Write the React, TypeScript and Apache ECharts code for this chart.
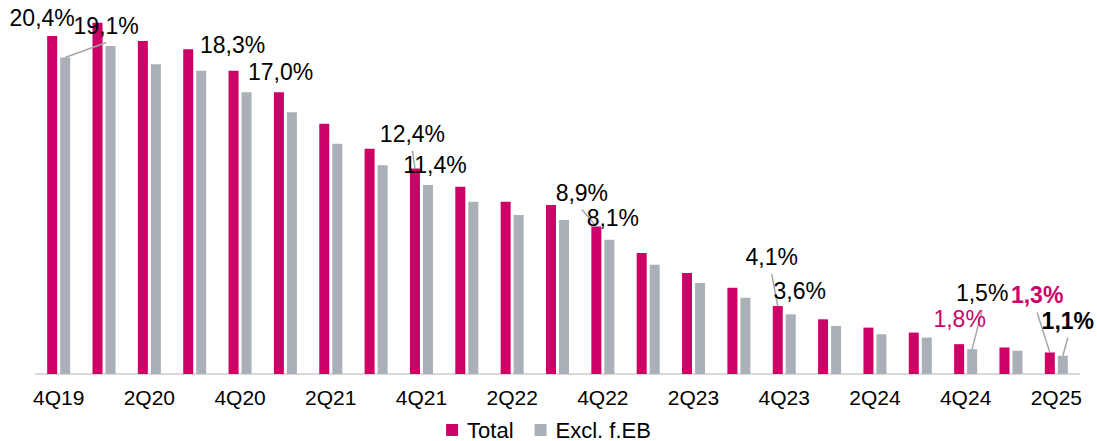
import React, { useEffect, useRef } from "react";
import * as echarts from "echarts";

const categories = [
  "4Q19", "1Q20", "2Q20", "3Q20", "4Q20", "1Q21", "2Q21", "3Q21", "4Q21",
  "1Q22", "2Q22", "3Q22", "4Q22", "1Q23", "2Q23", "3Q23", "4Q23",
  "1Q24", "2Q24", "3Q24", "4Q24", "1Q25", "2Q25",
];
const totalValues = [
  20.4, 21.2, 20.1, 19.6, 18.3, 17.0, 15.1, 13.6, 12.4, 11.3, 10.4, 10.2,
  8.9, 7.3, 6.1, 5.2, 4.1, 3.3, 2.8, 2.5, 1.8, 1.6, 1.3,
];
const exclValues = [
  19.1, 19.8, 18.7, 18.3, 17.0, 15.8, 13.9, 12.6, 11.4, 10.4, 9.6, 9.3,
  8.1, 6.6, 5.5, 4.6, 3.6, 2.9, 2.4, 2.2, 1.5, 1.4, 1.1,
];
const seriesNames = ["Total", "Excl. f.EB"];
const labeledIndices = [0, 4, 8, 12, 16, 20, 22];

const MAGENTA = "#CC0066";
const GREY = "#A9B0B8";
const FONT = "'Liberation Sans', Arial, Helvetica, sans-serif";

type Place = { dx: number; dy: number; line?: boolean; color?: string; bold?: boolean };
// offset of the label centre from the bar's top centre (layout only)
const totalPlacement: Record<number, Place> = {
  0: { dx: -10, dy: -18 },
  4: { dx: -1, dy: -26 },
  8: { dx: -2.5, dy: -35, line: true },
  12: { dx: -14.5, dy: -34, line: true },
  16: { dx: -6, dy: -49, line: true },
  20: { dx: 0.5, dy: -25, color: MAGENTA },
  22: { dx: -12.7, dy: -57, line: true, color: MAGENTA, bold: true },
};
const exclPlacement: Record<number, Place> = {
  0: { dx: 41, dy: -32, line: true },
  4: { dx: 34, dy: -20 },
  8: { dx: 7, dy: -20 },
  12: { dx: 3.5, dy: -22 },
  16: { dx: 9, dy: -23.5 },
  20: { dx: 10, dy: -56, line: true },
  22: { dx: 5, dy: -35, line: true, bold: true },
};

const fmt = (v: number) => v.toFixed(1).replace(".", ",") + "%";

export default function App() {
  const ref = useRef<HTMLDivElement>(null);
  useEffect(() => {
    document.body.style.margin = "0";
    if (!ref.current) return;
    const chart = echarts.init(ref.current, undefined, { renderer: "svg" });
    chart.setOption({
      animation: false,
      backgroundColor: "#ffffff",
      textStyle: { fontFamily: FONT },
      grid: { left: 36, right: 18, top: 9.5, bottom: 67, containLabel: false },
      legend: {
        data: seriesNames,
        left: "center",
        top: 414,
        itemWidth: 12,
        itemHeight: 12,
        itemGap: 21,
        icon: "rect",
        textStyle: {
          fontSize: 22,
          lineHeight: 22,
          color: "#000",
          fontFamily: FONT,
          padding: [0, 0, 0, 4],
        },
      },
      xAxis: {
        type: "category",
        data: categories,
        axisLine: { lineStyle: { color: "#D9D9D9", width: 2 } },
        axisTick: { show: false },
        axisLabel: { interval: 1, fontSize: 21, color: "#000", margin: 13, fontFamily: FONT },
      },
      yAxis: { type: "value", min: 0, max: 22, show: false, splitLine: { show: false } },
      series: [
        {
          name: seriesNames[0],
          type: "bar",
          data: totalValues,
          barWidth: 10,
          barGap: "30%",
          itemStyle: { color: MAGENTA },
        },
        {
          name: seriesNames[1],
          type: "bar",
          data: exclValues,
          barWidth: 10,
          itemStyle: { color: GREY },
        },
      ],
    });

    const model = (chart as any).getModel ? (chart as any).getModel() : null;
    const graphics: any[] = [];
    [0, 1].forEach((s) => {
      const values = s === 0 ? totalValues : exclValues;
      const place = s === 0 ? totalPlacement : exclPlacement;
      let data: any = null;
      try {
        data = model ? model.getSeriesByIndex(s).getData() : null;
      } catch (e) {
        data = null;
      }
      labeledIndices.forEach((i) => {
        let cx: number;
        let top: number;
        const lay = data ? data.getItemLayout(i) : null;
        if (lay && typeof lay.x === "number") {
          cx = lay.x + lay.width / 2;
          top = Math.min(lay.y, lay.y + lay.height);
        } else {
          const p = chart.convertToPixel({ xAxisIndex: 0, yAxisIndex: 0 }, [i, values[i]]) as number[];
          cx = p[0] + (s === 0 ? -6.5 : 6.5);
          top = p[1];
        }
        const pl = place[i];
        const lx = cx + pl.dx;
        const ly = top + pl.dy;
        if (pl.line) {
          graphics.push({
            type: "line",
            silent: true,
            z: 50,
            shape: { x1: lx, y1: ly + 17, x2: cx, y2: top },
            style: { stroke: "#A6A6A6", lineWidth: 1.5 },
          });
        }
        graphics.push({
          type: "text",
          silent: true,
          z: 100,
          x: lx,
          y: ly,
          style: {
            text: fmt(values[i]),
            fill: pl.color || "#000",
            fontSize: 23,
            fontFamily: FONT,
            fontWeight: pl.bold ? "bold" : "normal",
            align: "center",
            verticalAlign: "middle",
            textAlign: "center",
            textVerticalAlign: "middle",
          },
        });
      });
    });
    chart.setOption({ graphic: graphics });

    return () => chart.dispose();
  }, []);
  return (
    <div
      ref={ref}
      style={{ position: "absolute", left: 0, top: 0, width: 1097, height: 441 }}
    />
  );
}
